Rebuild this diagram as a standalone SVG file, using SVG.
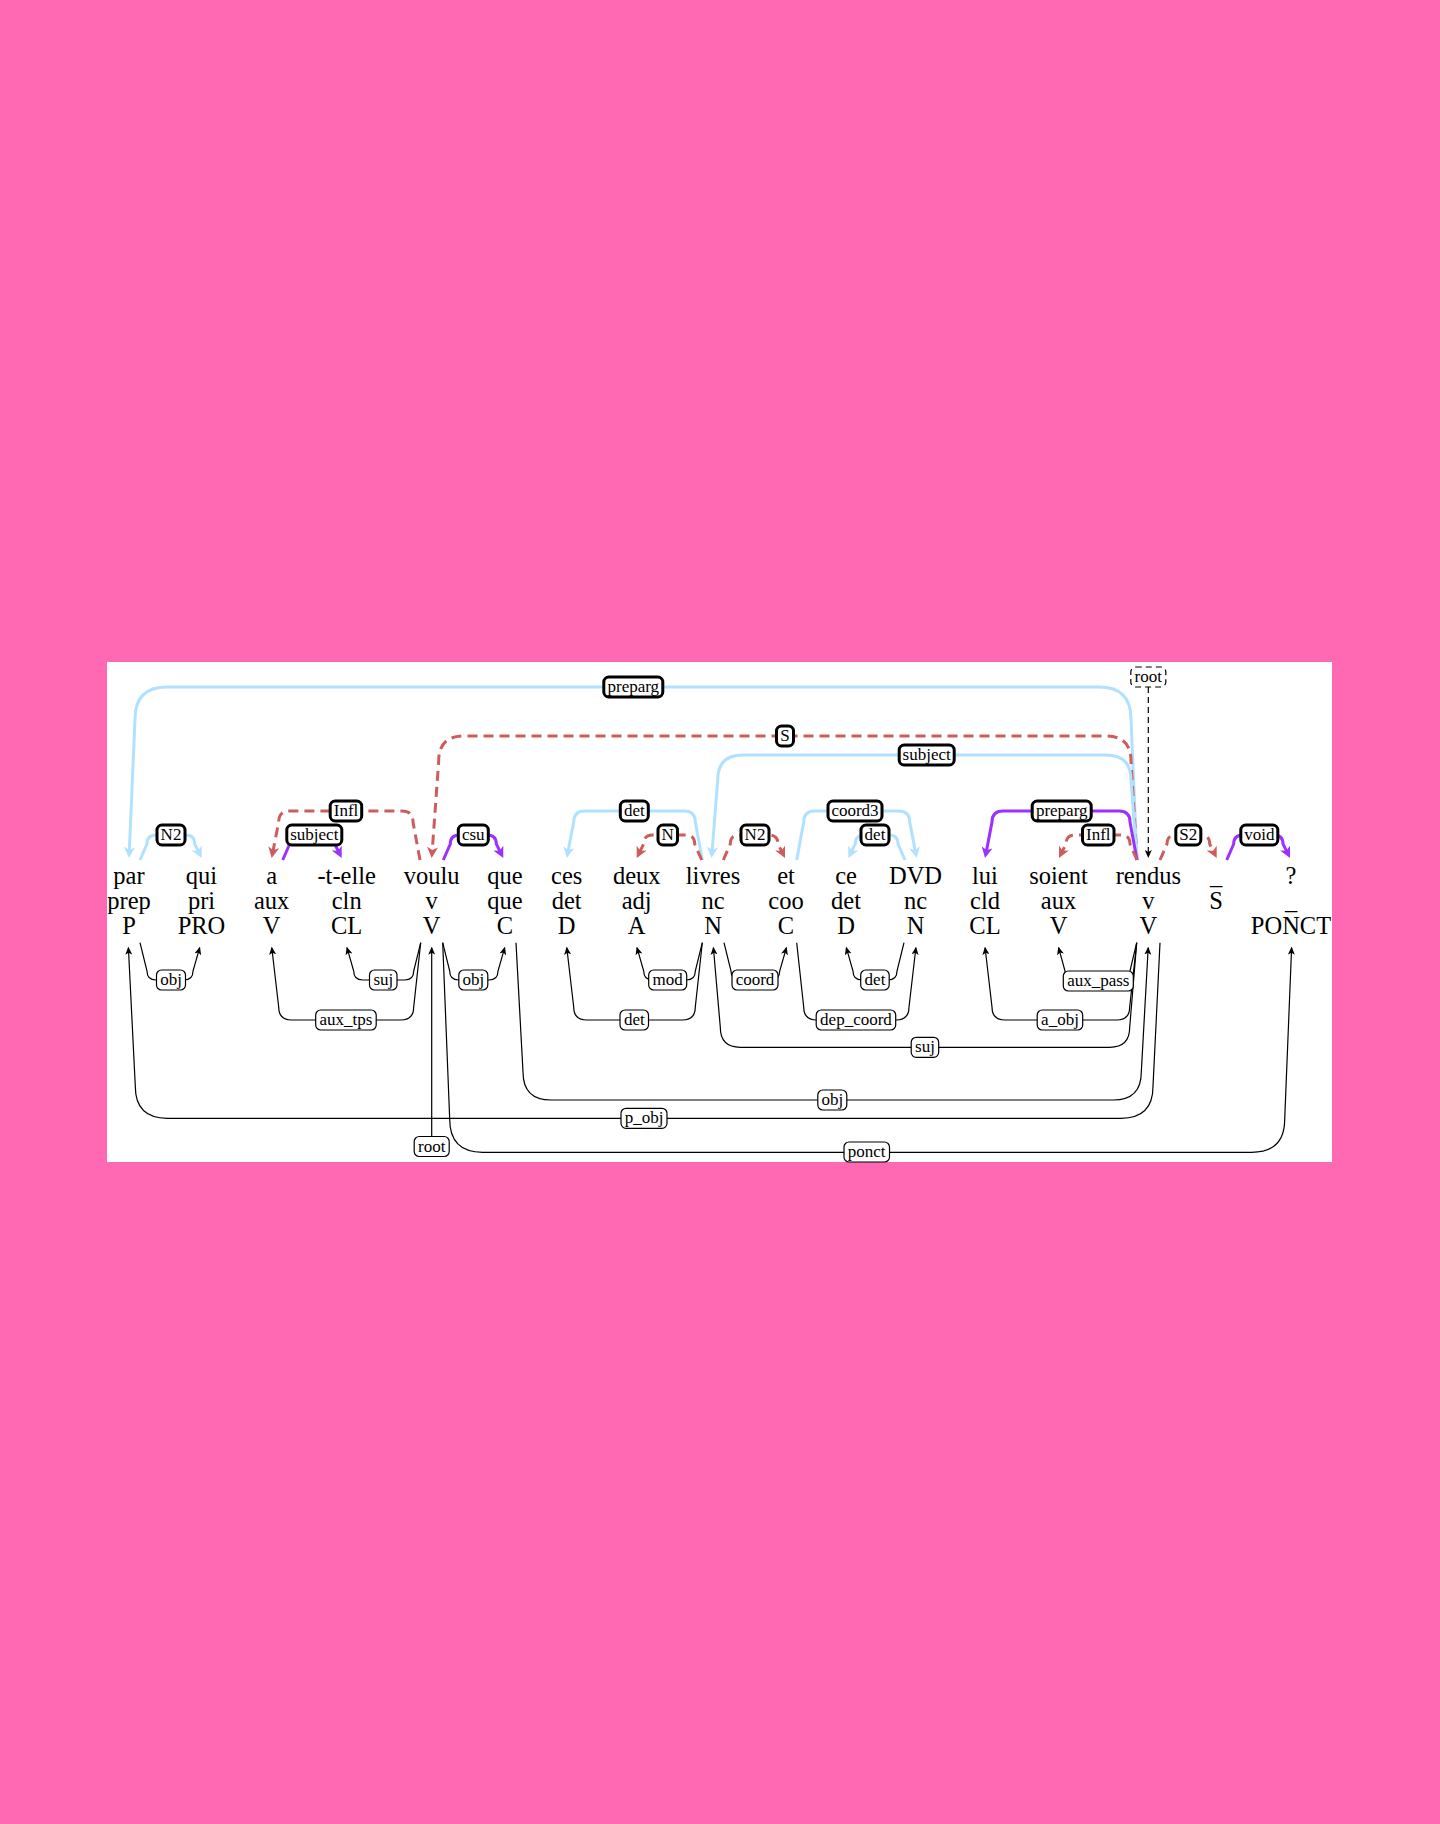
<svg xmlns="http://www.w3.org/2000/svg" width="1440" height="1824" viewBox="0 0 1440 1824">
<style>
.w{font-family:"Liberation Serif","Times New Roman",serif;font-size:24.5px;text-anchor:middle;fill:#000}
.l{font-family:"Liberation Serif","Times New Roman",serif;font-size:17px;text-anchor:middle;fill:#000}
.tb{fill:#fff;stroke:#000;stroke-width:3}
.bb{fill:#fff;stroke:#000;stroke-width:1.2}
.rb{fill:#fff;stroke:#000;stroke-width:1.2;stroke-dasharray:6,4}
.cB{fill:none;stroke:#B0E2FF;stroke-width:3;marker-end:url(#mB)}
.cR{fill:none;stroke:#CD5C5C;stroke-width:3;stroke-dasharray:10,6;marker-end:url(#mR)}
.cP{fill:none;stroke:#9B30FF;stroke-width:3;marker-end:url(#mP)}
.cK{fill:none;stroke:#000;stroke-width:1.2;marker-end:url(#mK)}
.cKd{fill:none;stroke:#000;stroke-width:1.2;stroke-dasharray:6,4;marker-end:url(#mK)}
</style>
<defs>
<marker id="mB" markerUnits="userSpaceOnUse" markerWidth="11" markerHeight="11" refX="7" refY="5.5" orient="auto"><path d="M0,0 L11,5.5 L0,11 L3,5.5 z" fill="#B0E2FF"/></marker>
<marker id="mR" markerUnits="userSpaceOnUse" markerWidth="11" markerHeight="11" refX="7" refY="5.5" orient="auto"><path d="M0,0 L11,5.5 L0,11 L3,5.5 z" fill="#CD5C5C"/></marker>
<marker id="mP" markerUnits="userSpaceOnUse" markerWidth="11" markerHeight="11" refX="7" refY="5.5" orient="auto"><path d="M0,0 L11,5.5 L0,11 L3,5.5 z" fill="#9B30FF"/></marker>
<marker id="mK" markerUnits="userSpaceOnUse" markerWidth="8" markerHeight="7" refX="7" refY="3.5" orient="auto"><path d="M0,0 L8,3.5 L0,7 L2,3.5 z" fill="#000"/></marker>
</defs>
<rect x="0" y="0" width="1440" height="1824" fill="#FF69B4"/>
<rect x="107" y="662" width="1225" height="500" fill="#fff"/>

<g id="words">
<g id="w1"><text class="w" x="129" y="884">par</text><text class="w" x="129" y="909">prep</text><text class="w" x="129" y="934">P</text></g>
<g id="w2"><text class="w" x="201.5" y="884">qui</text><text class="w" x="201.5" y="909">pri</text><text class="w" x="201.5" y="934">PRO</text></g>
<g id="w3"><text class="w" x="271.7" y="884">a</text><text class="w" x="271.7" y="909">aux</text><text class="w" x="271.7" y="934">V</text></g>
<g id="w4"><text class="w" x="346.7" y="884">-t-elle</text><text class="w" x="346.7" y="909">cln</text><text class="w" x="346.7" y="934">CL</text></g>
<g id="w5"><text class="w" x="431.7" y="884">voulu</text><text class="w" x="431.7" y="909">v</text><text class="w" x="431.7" y="934">V</text></g>
<g id="w6"><text class="w" x="505" y="884">que</text><text class="w" x="505" y="909">que</text><text class="w" x="505" y="934">C</text></g>
<g id="w7"><text class="w" x="566.7" y="884">ces</text><text class="w" x="566.7" y="909">det</text><text class="w" x="566.7" y="934">D</text></g>
<g id="w8"><text class="w" x="636.7" y="884">deux</text><text class="w" x="636.7" y="909">adj</text><text class="w" x="636.7" y="934">A</text></g>
<g id="w9"><text class="w" x="713" y="884">livres</text><text class="w" x="713" y="909">nc</text><text class="w" x="713" y="934">N</text></g>
<g id="w10"><text class="w" x="786" y="884">et</text><text class="w" x="786" y="909">coo</text><text class="w" x="786" y="934">C</text></g>
<g id="w11"><text class="w" x="846" y="884">ce</text><text class="w" x="846" y="909">det</text><text class="w" x="846" y="934">D</text></g>
<g id="w12"><text class="w" x="915.5" y="884">DVD</text><text class="w" x="915.5" y="909">nc</text><text class="w" x="915.5" y="934">N</text></g>
<g id="w13"><text class="w" x="985" y="884">lui</text><text class="w" x="985" y="909">cld</text><text class="w" x="985" y="934">CL</text></g>
<g id="w14"><text class="w" x="1058.5" y="884">soient</text><text class="w" x="1058.5" y="909">aux</text><text class="w" x="1058.5" y="934">V</text></g>
<g id="w15"><text class="w" x="1148.3" y="884">rendus</text><text class="w" x="1148.3" y="909">v</text><text class="w" x="1148.3" y="934">V</text></g>
<g id="w16"><text class="w" x="1216" y="884">_</text><text class="w" x="1216" y="909">S</text></g>
<g id="w17"><text class="w" x="1291" y="884">?</text><text class="w" x="1291" y="909">_</text><text class="w" x="1291" y="934">PONCT</text></g>
</g>

<g id="connectors">
<path class="cB" d="M1137,860 L1131,719 Q1131,687 1099,687 H167 Q135,687 135,719 L129.2,854"/>
<path class="cR" d="M1137,860 L1131,761 Q1131,736 1106,736 H463.7 Q438.7,736 438.7,761 L432,854"/>
<path class="cB" d="M1137,860 L1131,780 Q1131,755 1106,755 H742.7 Q717.7,755 717.7,780 L711.9,854"/>
<path class="cR" d="M420,860 L413,822 Q413,811 402,811 H289.7 Q278.7,811 278.7,822 L272.4,854.1"/>
<path class="cP" d="M282.7,860 L289.7,844 Q289.7,835 298.7,835 H325.7 Q334.7,835 334.7,844 L339.9,854.4"/>
<path class="cP" d="M443.3,860 L450.3,844 Q450.3,835 459.3,835 H487.3 Q496.3,835 496.3,844 L501.5,854.4"/>
<path class="cB" d="M140,860 L147,844 Q147,835 156,835 H185.7 Q194.7,835 194.7,844 L199.9,854.4"/>
<path class="cB" d="M702.3,860 L695.3,822 Q695.3,811 684.3,811 H584.7 Q573.7,811 573.7,822 L567.5,854.1"/>
<path class="cR" d="M701.7,860 L694.7,844 Q694.7,835 685.7,835 H652.7 Q643.7,835 643.7,844 L638.5,854.4"/>
<path class="cR" d="M723.3,860 L730.3,844 Q730.3,835 739.3,835 H769 Q778,835 778,844 L783.2,854.4"/>
<path class="cB" d="M796.7,860 L803.7,822 Q803.7,811 814.7,811 H898.7 Q909.7,811 909.7,822 L915.9,854.1"/>
<path class="cB" d="M905,860 L898,844 Q898,835 889,835 H864.3 Q855.3,835 855.3,844 L850.1,854.4"/>
<path class="cP" d="M1137,860 L1130,822 Q1130,811 1119,811 H1003 Q992,811 992,822 L985.8,854.1"/>
<path class="cR" d="M1137,860 L1130,844 Q1130,835 1121,835 H1075 Q1066,835 1066,844 L1060.8,854.4"/>
<path class="cR" d="M1160,860 L1167,844 Q1167,835 1176,835 H1200.7 Q1209.7,835 1209.7,844 L1214.9,854.4"/>
<path class="cP" d="M1226.7,860 L1233.7,844 Q1233.7,835 1242.7,835 H1274 Q1283,835 1283,844 L1288.2,854.4"/>
<path class="cKd" d="M1148.3,687 L1148.3,857"/>

<path class="cK" d="M140,942.7 L147,971 Q147,980 156,980 H184 Q193,980 193,971 L199.7,947.7"/>
<path class="cK" d="M420.7,942.7 L413.7,971 Q413.7,980 404.7,980 H362.7 Q353.7,980 353.7,971 L347,947.7"/>
<path class="cK" d="M420.7,942.7 L413.7,1007 Q413.7,1020 400.7,1020 H291.7 Q278.7,1020 278.7,1007 L271.8,947.7"/>
<path class="cK" d="M431.7,1136 L431.7,947.7"/>
<path class="cK" d="M442.7,942.7 L449.7,971 Q449.7,980 458.7,980 H489 Q498,980 498,971 L504.7,947.7"/>
<path class="cK" d="M1160,942.7 L1153,1086.3 Q1153,1118.3 1121,1118.3 H167.3 Q135.3,1118.3 135.3,1086.3 L128.4,947.7"/>
<path class="cK" d="M442.7,942.7 L449.7,1119.3 Q449.7,1152.3 482.7,1152.3 H1251.7 Q1284.7,1152.3 1284.7,1119.3 L1291.6,947.7"/>
<path class="cK" d="M516,942.7 L523,1072 Q523,1100 551,1100 H1113.3 Q1141.3,1100 1141.3,1072 L1148.2,947.7"/>
<path class="cK" d="M702.3,942.7 L695.3,1007 Q695.3,1020 682.3,1020 H586.7 Q573.7,1020 573.7,1007 L566.8,947.7"/>
<path class="cK" d="M702.3,942.7 L695.3,971 Q695.3,980 686.3,980 H652.7 Q643.7,980 643.7,971 L637,947.7"/>
<path class="cK" d="M1136.7,942.7 L1129.7,1027.3 Q1129.7,1047.3 1109.7,1047.3 H740.3 Q720.3,1047.3 720.3,1027.3 L713.4,947.7"/>
<path class="cK" d="M724,942.7 L731,971 Q731,980 740,980 H770.7 Q779.7,980 779.7,971 L786.4,947.7"/>
<path class="cK" d="M796.7,942.7 L803.7,1007 Q803.7,1020 816.7,1020 H896 Q909,1020 909,1007 L915.9,947.7"/>
<path class="cK" d="M904,942.7 L897,971 Q897,980 888,980 H862 Q853,980 853,971 L846.3,947.7"/>
<path class="cK" d="M1136.7,942.7 L1129.7,1007 Q1129.7,1020 1116.7,1020 H1005 Q992,1020 992,1007 L985.1,947.7"/>
<path class="cK" d="M1136.7,942.7 L1129.7,972 Q1129.7,981 1120.7,981 H1074.3 Q1065.3,981 1065.3,972 L1058.6,947.7"/>
</g>

<g id="labels">
<rect class="tb" x="603.8" y="677" width="59" height="20" rx="5"/><text class="l" x="633.3" y="692">preparg</text>
<rect class="tb" x="776.5" y="726" width="17" height="20" rx="5"/><text class="l" x="785" y="741">S</text>
<rect class="tb" x="899.2" y="745" width="55" height="20" rx="5"/><text class="l" x="926.7" y="760">subject</text>
<rect class="tb" x="330.2" y="801" width="31.5" height="20" rx="5"/><text class="l" x="346" y="816">Infl</text>
<rect class="tb" x="286.8" y="825" width="55" height="20" rx="5"/><text class="l" x="314.3" y="840">subject</text>
<rect class="tb" x="458.3" y="825" width="30" height="20" rx="5"/><text class="l" x="473.3" y="840">csu</text>
<rect class="tb" x="157" y="825" width="28" height="20" rx="5"/><text class="l" x="171" y="840">N2</text>
<rect class="tb" x="620.3" y="801" width="28" height="20" rx="5"/><text class="l" x="634.3" y="816">det</text>
<rect class="tb" x="658" y="825" width="19.5" height="20" rx="5"/><text class="l" x="667.7" y="840">N</text>
<rect class="tb" x="741" y="825" width="28" height="20" rx="5"/><text class="l" x="755" y="840">N2</text>
<rect class="tb" x="828" y="801" width="54" height="20" rx="5"/><text class="l" x="855" y="816">coord3</text>
<rect class="tb" x="861" y="825" width="28" height="20" rx="5"/><text class="l" x="875" y="840">det</text>
<rect class="tb" x="1032.2" y="801" width="59" height="20" rx="5"/><text class="l" x="1061.7" y="816">preparg</text>
<rect class="tb" x="1082.5" y="825" width="31.5" height="20" rx="5"/><text class="l" x="1098.3" y="840">Infl</text>
<rect class="tb" x="1175.8" y="825" width="25" height="20" rx="5"/><text class="l" x="1188.3" y="840">S2</text>
<rect class="tb" x="1240.8" y="825" width="37" height="20" rx="5"/><text class="l" x="1259.3" y="840">void</text>
<rect class="rb" x="1130.8" y="667" width="35" height="20" rx="5"/><text class="l" x="1148.3" y="682">root</text>

<rect class="bb" x="156.5" y="970" width="29" height="20" rx="5"/><text class="l" x="171" y="985">obj</text>
<rect class="bb" x="369.5" y="970" width="27.5" height="20" rx="5"/><text class="l" x="383.3" y="985">suj</text>
<rect class="bb" x="315.7" y="1010" width="60.5" height="20" rx="5"/><text class="l" x="346" y="1025">aux_tps</text>
<rect class="bb" x="414.2" y="1136.5" width="35" height="20" rx="5"/><text class="l" x="431.7" y="1151.5">root</text>
<rect class="bb" x="458.8" y="970" width="29" height="20" rx="5"/><text class="l" x="473.3" y="985">obj</text>
<rect class="bb" x="621" y="1108.3" width="46" height="20" rx="5"/><text class="l" x="644" y="1123.3">p_obj</text>
<rect class="bb" x="844" y="1142" width="45.5" height="20" rx="5"/><text class="l" x="866.7" y="1157">ponct</text>
<rect class="bb" x="817.8" y="1090" width="29" height="20" rx="5"/><text class="l" x="832.3" y="1105">obj</text>
<rect class="bb" x="620" y="1010" width="28.5" height="20" rx="5"/><text class="l" x="634.3" y="1025">det</text>
<rect class="bb" x="648.7" y="970" width="38" height="20" rx="5"/><text class="l" x="667.7" y="985">mod</text>
<rect class="bb" x="911.2" y="1037.3" width="27.5" height="20" rx="5"/><text class="l" x="925" y="1052.3">suj</text>
<rect class="bb" x="732" y="970" width="46" height="20" rx="5"/><text class="l" x="755" y="985">coord</text>
<rect class="bb" x="816.2" y="1010" width="79.5" height="20" rx="5"/><text class="l" x="856" y="1025">dep_coord</text>
<rect class="bb" x="860.7" y="970" width="28.5" height="20" rx="5"/><text class="l" x="875" y="985">det</text>
<rect class="bb" x="1037.2" y="1010" width="45.5" height="20" rx="5"/><text class="l" x="1060" y="1025">a_obj</text>
<rect class="bb" x="1063.3" y="971" width="70" height="20" rx="5"/><text class="l" x="1098.3" y="986">aux_pass</text>
</g>
</svg>
